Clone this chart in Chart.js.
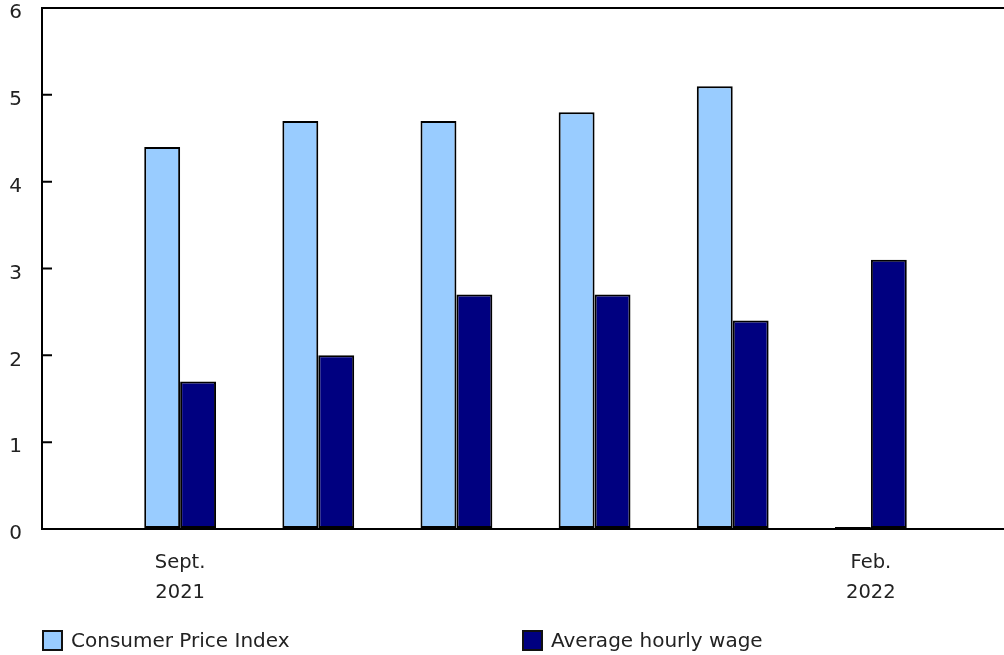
<!DOCTYPE html>
<html>
<head>
<meta charset="utf-8">
<script src="https://cdn.jsdelivr.net/npm/chart.js@4/dist/chart.umd.min.js"></script>
<style>
  html, body { margin: 0; padding: 0; background: #fff; overflow: hidden; }
  #wrap { position: relative; width: 1004px; height: 655px; overflow: hidden; }
  #c { position: absolute; left: 0; top: -24px; }
  #legend { position: absolute; left: 42px; top: 629px; display: flex; font-family: "DejaVu Sans", Verdana, sans-serif; font-size: 20px; line-height: 22px; color: #222; }
  .item { display: flex; align-items: center; width: 480px; }
  .swatch { box-sizing: border-box; width: 21px; height: 21px; border: 2px solid #111; margin-right: 8px; }
</style>
</head>
<body>
<div id="wrap">
  <canvas id="c" width="1028" height="679"></canvas>
  <div id="legend"></div>
</div>
<script>
// Months shown on the axis (only first and last are labelled)
const months = ['Sept. 2021', 'Oct. 2021', 'Nov. 2021', 'Dec. 2021', 'Jan. 2022', 'Feb. 2022'];
const monthLabels = [['Sept.', '2021'], '', '', '', '', ['Feb.', '2022']];

// Year-over-year change, percent
const cpi = [4.4, 4.7, 4.7, 4.8, 5.1, 0];
const wage = [1.7, 2.0, 2.7, 2.7, 2.4, 3.1];

const seriesNames = ['Consumer Price Index', 'Average hourly wage'];
const seriesColors = ['#99ccff', '#000080'];

const yTicks = [0, 1, 2, 3, 4, 5, 6];

// One empty slot before and after the months keeps the bars off the axes
const slots = [''].concat(monthLabels, ['']);
const pad = arr => [null].concat(arr, [null]);

const innerTicks = {
  id: 'innerTicks',
  afterDraw(chart) {
    const ys = chart.scales.y;
    const ctx = chart.ctx;
    const left = chart.chartArea.left;
    ctx.save();
    ctx.strokeStyle = '#000';
    ctx.lineWidth = 2;
    ctx.beginPath();
    yTicks.forEach(v => {
      const py = ys.getPixelForValue(v);
      ctx.moveTo(left, py);
      ctx.lineTo(left + 10, py);
    });
    ctx.stroke();
    ctx.restore();
  }
};

const chart = new Chart(document.getElementById('c'), {
  type: 'bar',
  data: {
    labels: slots,
    datasets: [
      { label: seriesNames[0], data: pad(cpi), backgroundColor: seriesColors[0], borderColor: '#000', borderWidth: 2, borderSkipped: false, minBarLength: 2 },
      { label: seriesNames[1], data: pad(wage), backgroundColor: seriesColors[1], borderColor: '#000', borderWidth: 2, borderSkipped: false, minBarLength: 2 }
    ]
  },
  options: {
    responsive: false,
    animation: false,
    layout: { padding: 0 },
    datasets: { bar: { barPercentage: 1, categoryPercentage: 0.52 } },
    plugins: { legend: { display: false }, tooltip: { enabled: false } },
    scales: {
      x: {
        offset: false,
        grid: { display: false, drawTicks: false },
        border: { display: true, color: '#000', width: 2 },
        ticks: {
          autoSkip: false, maxRotation: 0, padding: 19, color: '#222',
          font: { family: '"DejaVu Sans", Verdana, sans-serif', size: 19.5, lineHeight: '30px' }
        },
        afterFit(s) { s.height = 126; }
      },
      y: {
        min: 0, max: 6,
        afterBuildTicks(s) { s.ticks = yTicks.map(v => ({ value: v })); },
        grid: {
          drawTicks: false,
          lineWidth: 2,
          color: c => (c.tick && c.tick.value === 6) ? '#000' : 'rgba(0,0,0,0)'
        },
        border: { display: true, color: '#000', width: 2 },
        ticks: {
          padding: 20, labelOffset: 5, color: '#222',
          font: { family: '"DejaVu Sans", Verdana, sans-serif', size: 20 }
        },
        afterFit(s) { s.width = 42; }
      }
    }
  },
  plugins: [innerTicks]
});

// Legend built from the chart's datasets
const legend = document.getElementById('legend');
chart.data.datasets.forEach(ds => {
  const item = document.createElement('div');
  item.className = 'item';
  const sw = document.createElement('span');
  sw.className = 'swatch';
  sw.style.background = ds.backgroundColor;
  const tx = document.createElement('span');
  tx.textContent = ds.label;
  item.appendChild(sw);
  item.appendChild(tx);
  legend.appendChild(item);
});
</script>
</body>
</html>
